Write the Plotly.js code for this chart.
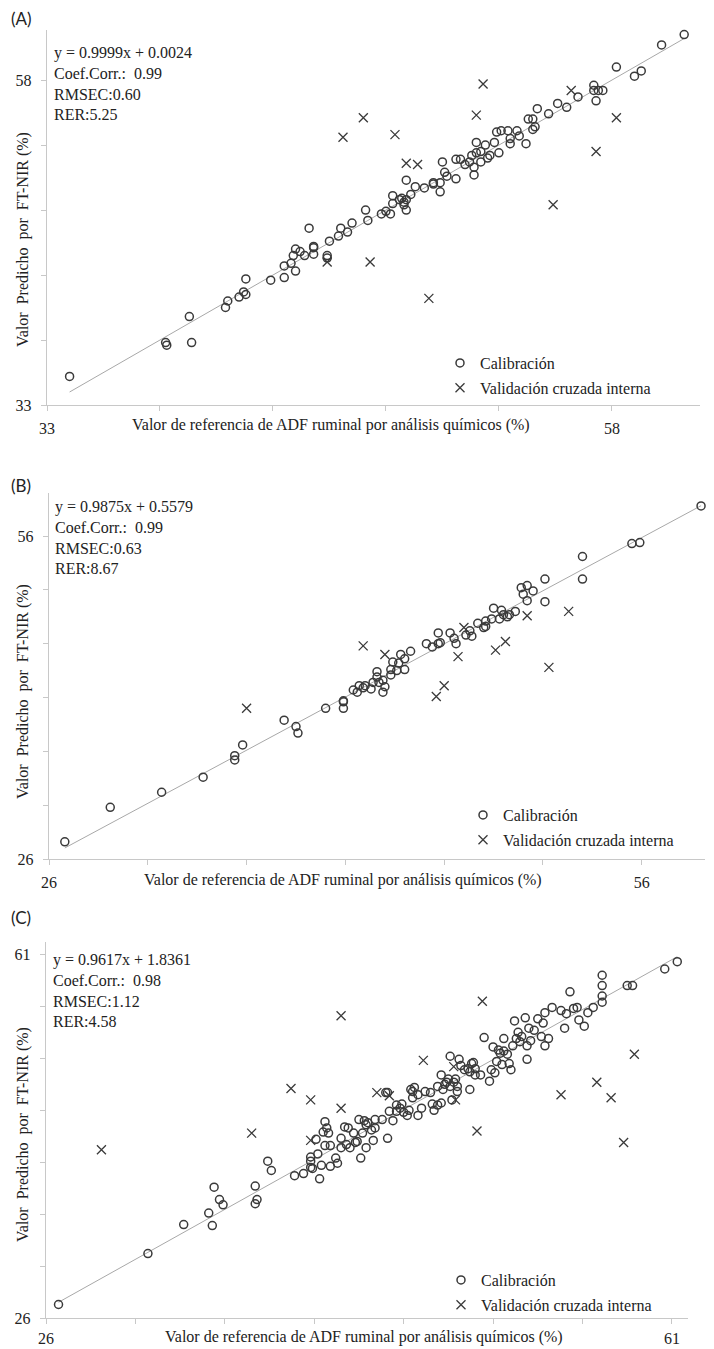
<!DOCTYPE html>
<html>
<head>
<meta charset="utf-8">
<script src="https://cdn.plot.ly/plotly-3.0.1.min.js"></script>
<style>html,body{margin:0;padding:0;background:#fff;}#chart{width:714px;height:1349px;}</style>
</head>
<body>
<div id="chart"></div>
<script>
// ---------------- DATA ----------------
// Panel A
const calA_x = [34.0,38.25,38.3,39.4,39.3,40.9,41.0,41.5,41.7,41.8,41.8,42.9,43.5,43.5,44.0,43.8,43.9,44.0,44.2,44.4,44.6,44.8,44.8,44.8,45.4,45.4,45.5,45.9,46.0,46.3,46.5,47.1,47.2,47.8,48.0,48.2,48.3,48.3,48.6,48.7,48.8,48.8,48.9,48.9,48.9,49.1,49.3,49.7,50.1,50.1,50.4,50.4,50.5,50.6,50.7,51.1,51.1,51.3,51.5,51.7,51.8,51.9,51.9,52.0,52.0,52.2,52.2,52.4,52.5,52.6,52.8,53.0,52.9,53.1,53.4,53.5,53.5,53.8,53.9,54.2,54.3,54.5,54.5,54.6,54.7,55.2,55.6,56.0,56.5,57.2,57.2,57.3,57.4,57.6,58.2,59.0,59.3,60.2,61.2];
const calA_y = [35.2,37.8,37.6,37.8,39.8,40.5,41.0,41.3,41.7,41.5,42.7,42.6,42.8,43.7,43.3,43.9,44.5,45.0,44.8,44.5,46.6,44.6,45.2,45.1,44.5,44.3,45.6,46.0,46.6,46.3,47.0,48.0,47.2,47.7,47.9,47.7,48.5,49.1,48.8,48.9,48.6,48.4,48.0,50.3,48.8,49.2,49.8,49.7,50.0,50.1,49.4,50.1,51.7,50.9,50.6,50.4,51.9,51.9,51.5,51.7,52.2,50.7,51.3,53.2,52.4,52.5,51.7,53.0,52.0,52.2,53.2,52.4,54.0,54.1,54.1,53.1,53.5,54.1,53.7,53.1,55.0,55.0,54.2,54.4,55.8,55.4,56.2,55.9,56.7,57.6,57.2,56.4,57.2,57.2,59.0,58.3,58.7,60.7,61.5];
const valA_x = [46.1,47.0,48.4,48.9,49.4,45.4,47.3,49.9,52.0,52.3,55.4,56.2,57.3,58.2];
const valA_y = [53.6,55.1,53.8,51.6,51.5,44.0,44.0,41.2,55.3,57.7,48.4,57.2,52.5,55.1];
const fitA = {slope: 0.9999, intercept: 0.0024};
const statsA = ['y = 0.9999x + 0.0024','Coef.Corr.:  0.99','RMSEC:0.60','RER:5.25'];

// Panel B
const calB_x = [26.8,29.1,31.7,33.8,35.4,35.4,35.8,37.9,38.5,38.6,40.0,40.9,40.9,40.9,41.4,41.6,41.7,41.9,42.0,42.3,42.4,42.6,42.6,42.7,42.9,43.0,42.9,43.3,43.3,43.4,43.6,43.7,43.8,44.0,44.0,44.3,45.1,45.4,45.7,45.8,45.7,46.3,46.5,46.6,47.1,47.3,47.4,47.7,48.0,48.1,48.1,48.4,48.5,48.8,48.9,49.0,49.2,49.3,49.6,49.9,50.0,50.2,50.2,50.5,51.1,51.1,53.0,53.0,55.5,55.9,59.0];
const calB_y = [27.6,30.8,32.2,33.6,35.6,35.2,36.6,38.9,38.3,37.7,40.0,40.0,40.6,40.7,41.7,41.5,42.1,41.9,42.1,41.8,42.4,42.9,43.4,42.4,41.5,42.0,42.6,43.1,43.6,44.3,43.5,44.2,45.0,43.6,44.6,45.3,46.0,45.7,47.0,46.1,46.0,47.0,46.5,46.0,46.8,47.2,46.7,47.9,47.5,47.6,48.1,48.3,49.3,48.3,49.1,48.7,48.5,48.7,49.0,51.2,50.6,51.4,50.0,50.9,49.9,52.0,54.1,52.0,55.3,55.4,58.8];
const valB_x = [36.0,41.9,43.0,45.6,46.0,46.7,47.0,48.6,49.1,50.2,51.3,52.3];
const valB_y = [40.0,45.8,45.0,41.1,42.1,44.8,47.5,45.4,46.2,48.6,43.8,49.0];
const fitB = {slope: 0.9875, intercept: 0.5579};
const statsB = ['y = 0.9875x + 0.5579','Coef.Corr.:  0.99','RMSEC:0.63','RER:8.67'];

// Panel C
const calC_x = [26.7,31.7,33.7,35.1,35.3,35.4,35.7,35.9,37.7,37.8,37.7,38.4,38.6,39.9,40.4,40.8,40.8,40.8,40.9,41.1,41.2,41.3,41.4,41.5,41.6,41.6,41.7,41.8,41.9,41.9,42.2,42.3,42.5,42.5,42.7,42.9,42.8,43.0,43.2,43.3,43.4,43.5,43.6,43.7,43.8,43.9,43.9,44.0,44.2,44.3,44.4,44.4,44.8,45.0,45.1,45.1,45.2,45.4,45.6,45.6,45.8,45.9,46.0,46.2,46.3,46.4,46.5,46.5,46.6,46.8,46.8,47.0,47.2,47.5,47.6,47.7,47.9,47.9,48.1,48.1,48.2,48.3,48.4,48.5,48.6,48.6,48.7,48.8,48.9,49.0,49.0,49.1,49.2,49.4,49.6,49.7,49.7,49.8,49.9,50.0,50.0,50.3,50.5,50.8,50.9,51.0,51.1,51.2,51.3,51.4,51.5,51.6,51.6,51.8,51.9,52.0,52.1,52.2,52.3,52.4,52.5,52.6,52.8,52.9,52.9,53.0,53.1,53.3,53.5,53.7,53.8,53.9,53.9,54.1,54.3,54.8,55.0,55.1,55.3,55.5,55.7,55.8,56.1,56.3,56.6,57.1,57.1,57.1,57.1,58.5,58.8,60.6,61.3];
const calC_y = [27.3,32.2,35.0,36.1,34.9,38.6,37.4,36.9,38.7,37.4,37.0,41.1,40.2,39.7,39.9,41.1,40.5,41.5,40.4,43.2,41.8,39.4,40.7,43.9,42.6,44.9,44.3,43.8,42.6,40.6,41.4,40.9,43.3,42.4,44.4,44.3,42.7,42.4,43.8,42.9,43.0,45.1,41.4,43.8,45.0,42.4,44.6,44.8,44.1,43.1,44.3,45.1,45.1,47.7,47.7,43.3,45.9,45.0,45.9,46.5,46.2,46.6,45.8,45.5,46.0,48.0,47.2,47.8,48.2,47.5,45.5,46.2,47.8,47.7,46.6,46.0,48.3,46.5,49.4,46.7,48.0,48.5,48.7,49.0,51.2,48.3,47.0,48.7,49.0,48.3,47.8,50.9,50.3,49.9,50.0,48.0,49.7,50.5,50.6,50.0,49.4,49.4,53.0,48.8,49.9,52.1,49.6,50.7,51.8,51.5,50.4,52.9,51.7,51.4,50.5,49.9,52.2,54.6,52.9,53.5,52.6,53.1,54.9,50.9,52.2,53.9,52.7,53.7,54.8,53.1,54.4,55.4,52.2,52.9,55.9,55.6,53.9,55.3,57.4,55.8,55.9,54.7,54.1,55.4,55.9,56.4,57.0,58.0,59.0,58.0,58.0,59.6,60.3];
const valC_x = [29.1,37.5,39.7,40.8,40.8,42.5,42.5,44.5,45.2,47.1,48.8,48.9,50.1,50.4,54.8,56.8,57.6,58.3,58.9];
const valC_y = [42.2,43.8,48.1,47.0,43.1,55.1,46.2,47.7,47.4,50.8,50.2,47.0,44.0,56.5,47.5,48.7,47.2,42.9,51.4];
const fitC = {slope: 0.9617, intercept: 1.8361};
const statsC = ['y = 0.9617x + 1.8361','Coef.Corr.:  0.98','RMSEC:1.12','RER:4.58'];

const ticksA = [33,38,43,48,53,58];
const ticksB = [26,31,36,41,46,51,56];
const ticksC = [26,31,36,41,46,51,56,61];
const labelsA = ['33','','','','','58'];
const labelsB = ['26','','','','','','56'];
const labelsC = ['26','','','','','','','61'];

const panelLabels = ['(A)','(B)','(C)'];
const legendNames = ['Calibración','Validación cruzada interna'];
const xTitle = 'Valor de referencia de ADF ruminal por análisis químicos (%)';
const yTitle = 'Valor  Predicho  por  FT-NIR (%)';

// ---------------- LAYOUT HELPERS ----------------
const W = 714, H = 1349;
const px = v => v / W;
const py = v => (H - v) / H;
const SERIF = 'Liberation Serif';
const MK = '#3a3a3a';

function panelTraces(cx, cy, vx, vy, fit, xa, ya, lg) {
  const x0 = Math.min(...cx), x1 = Math.max(...cx);
  return [
    {x: [x0, x1], y: [fit.slope*x0 + fit.intercept, fit.slope*x1 + fit.intercept],
     mode: 'lines', line: {color: '#a8a8a8', width: 1}, showlegend: false, hoverinfo: 'skip',
     xaxis: xa, yaxis: ya},
    {x: cx, y: cy, mode: 'markers', name: legendNames[0], legend: lg, legendgroup: 'c'+xa,
     marker: {symbol: 'circle-open', size: 8, color: MK, line: {width: 1.5, color: MK}},
     cliponaxis: false, xaxis: xa, yaxis: ya},
    {x: vx, y: vy, mode: 'markers', name: legendNames[1], legend: lg, legendgroup: 'v'+xa,
     marker: {symbol: 'x-thin-open', size: 9, color: MK, line: {width: 1.3, color: MK}},
     cliponaxis: false, xaxis: xa, yaxis: ya}
  ];
}

const data = [
  ...panelTraces(calA_x, calA_y, valA_x, valA_y, fitA, 'x', 'y', 'legend'),
  ...panelTraces(calB_x, calB_y, valB_x, valB_y, fitB, 'x2', 'y2', 'legend2'),
  ...panelTraces(calC_x, calC_y, valC_x, valC_y, fitC, 'x3', 'y3', 'legend3')
];

function xax(dom, rng, tv, tt, anchor, standoff) {
  return {domain: dom, range: rng, anchor: anchor, tickvals: tv, ticktext: tt,
    showgrid: false, zeroline: false, showline: true, linecolor: '#c8c8c8', linewidth: 1.3,
    ticks: 'outside', ticklen: 5, tickcolor: '#c8c8c8', tickwidth: 1,
    ticklabelstandoff: standoff,
    tickfont: {family: SERIF, size: 16, color: '#222'}, fixedrange: true};
}
function yax(dom, rng, tv, tt, anchor) {
  return {domain: dom, range: rng, anchor: anchor, tickvals: tv, ticktext: tt,
    showgrid: false, zeroline: false, showline: true, linecolor: '#c8c8c8', linewidth: 1.3,
    ticks: 'outside', ticklen: 5, tickcolor: '#c8c8c8', tickwidth: 1,
    ticklabelstandoff: 6,
    tickfont: {family: SERIF, size: 16, color: '#222'}, fixedrange: true};
}

function legendAt(xl, yt) {
  return {x: px(xl), y: py(yt), xanchor: 'left', yanchor: 'top', bgcolor: 'rgba(0,0,0,0)',
    font: {family: SERIF, size: 16, color: '#222'}, traceorder: 'grouped', tracegroupgap: 1,
    itemwidth: 30};
}

const panels = [
  {lab: panelLabels[0], labY: 18, stats: statsA, statsY: 42, statsX: 52, xtY: 425, xtX: 331, ytY: 240},
  {lab: panelLabels[1], labY: 485, stats: statsB, statsY: 496, statsX: 53, xtY: 880, xtX: 343, ytY: 692},
  {lab: panelLabels[2], labY: 918, stats: statsC, statsY: 949, statsX: 51, xtY: 1337, xtX: 364, ytY: 1135}
];

const annotations = [];
panels.forEach(p => {
  annotations.push({text: p.lab, xref: 'paper', yref: 'paper', x: px(9), y: py(p.labY),
    xanchor: 'left', yanchor: 'middle', showarrow: false,
    font: {family: 'Lato', size: 17, color: '#222'}});
  annotations.push({text: p.stats.join('<br>'), xref: 'paper', yref: 'paper', x: px(p.statsX), y: py(p.statsY),
    xanchor: 'left', yanchor: 'top', align: 'left', showarrow: false,
    font: {family: SERIF, size: 16, color: '#222'}});
  annotations.push({text: xTitle, xref: 'paper', yref: 'paper', x: px(p.xtX), y: py(p.xtY),
    xanchor: 'center', yanchor: 'middle', showarrow: false,
    font: {family: SERIF, size: 16, color: '#222'}});
  annotations.push({text: yTitle, xref: 'paper', yref: 'paper', x: px(23), y: py(p.ytY),
    xanchor: 'center', yanchor: 'middle', textangle: -90, showarrow: false,
    font: {family: SERIF, size: 16, color: '#222'}});
});

const layout = {
  width: W, height: H, margin: {l: 0, r: 0, t: 0, b: 0},
  paper_bgcolor: '#fff', plot_bgcolor: '#fff', showlegend: true,
  xaxis:  xax([px(47), px(700)], [33, 61.9], ticksA, labelsA, 'y', 3),
  yaxis:  yax([py(405), py(30)], [33, 61.85], ticksA, labelsA, 'x'),
  xaxis2: xax([px(49), px(705)], [26, 59.2], ticksB, labelsB, 'y2', 3),
  yaxis2: yax([py(859), py(493)], [26, 60.0], ticksB, labelsB, 'x2'),
  xaxis3: xax([px(46), px(688)], [26, 61.9], ticksC, labelsC, 'y3', 0),
  yaxis3: yax([py(1318), py(942)], [26, 62.2], ticksC, labelsC, 'x3'),
  legend:  legendAt(440, 346),
  legend2: legendAt(463, 798),
  legend3: legendAt(441, 1263),
  annotations: annotations
};

Plotly.newPlot('chart', data, layout, {staticPlot: true, displayModeBar: false});
</script>
</body>
</html>
